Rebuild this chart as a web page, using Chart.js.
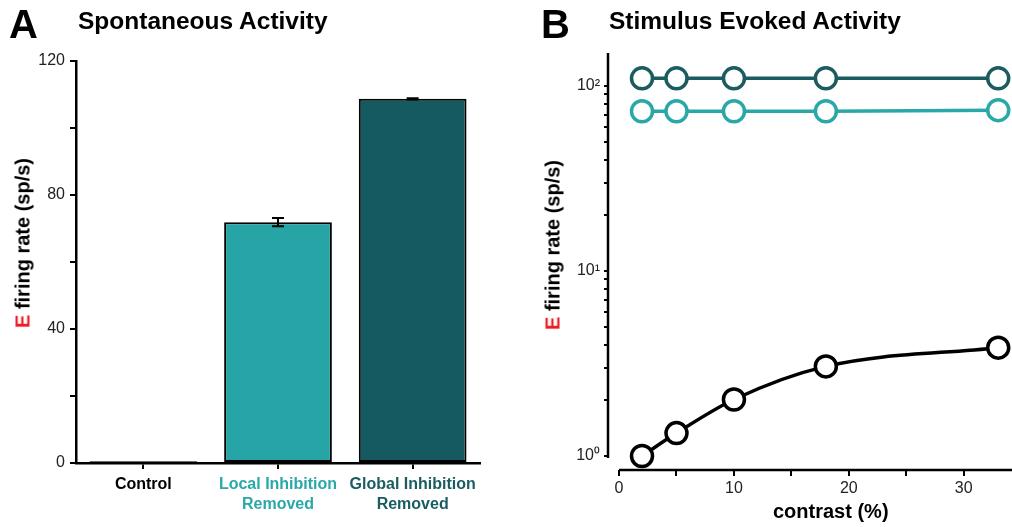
<!DOCTYPE html>
<html>
<head>
<meta charset="utf-8">
<script src="https://cdn.jsdelivr.net/npm/chart.js@4.4.0/dist/chart.umd.min.js"></script>
<style>
  body { margin:0; background:#fff; font-family:"Liberation Sans", Arial, sans-serif; }
  #wrap { position:relative; width:1012px; height:527px; overflow:hidden; }
  canvas { position:absolute; top:0; }
  .lbl { position:absolute; font-weight:bold; color:#000; white-space:nowrap; }
  .ylab { position:absolute; font-weight:bold; font-size:20px; white-space:nowrap;
          transform:translate(-50%,-50%) rotate(-90deg); }
  .ylab span { color:#ee1c25; }
</style>
</head>
<body>
<div id="wrap">
  <canvas id="chartA" width="500" height="527" style="left:0"></canvas>
  <canvas id="chartB" width="512" height="527" style="left:500px"></canvas>
  <div class="lbl" style="left:9px;top:2px;font-size:40px">A</div>
  <div class="lbl" style="left:78px;top:7px;font-size:24.5px">Spontaneous Activity</div>
  <div class="lbl" style="left:541px;top:2px;font-size:40px">B</div>
  <div class="lbl" style="left:609px;top:7px;font-size:24.5px">Stimulus Evoked Activity</div>
  <div class="ylab" style="left:23px;top:243px"><span>E</span> firing rate (sp/s)</div>
  <div class="ylab" style="left:553px;top:245px"><span>E</span> firing rate (sp/s)</div>
  <div class="lbl" style="left:773px;top:500px;font-size:20px">contrast (%)</div>
</div>
<script>
// panel A: spontaneous
const conditions = ['Control', ['Local Inhibition', 'Removed'], ['Global Inhibition', 'Removed']];
const spontRate = [0.5, 71.9, 108.7];
const spontErr = [0.2, 1.2, 0.2];
const barColors = ['#000000', '#26a4a6', '#155a60'];
const labelColors = ['#000000', '#2aa8a8', '#1a5c60'];
const yTicksA = [0, 40, 80, 120];

// panel B: stimulus evoked
const contrast = [2, 5, 10, 18, 33];
const globalRemoved = [110, 110, 110, 110, 110];
const localRemoved = [73, 73, 73, 73, 74];
const control = [1.0, 1.33, 2.02, 3.05, 3.85];
const xTicksB = [0, 10, 20, 30];

const FONT = '"Liberation Sans", Arial, sans-serif';

const errorBars = {
  id: 'errorBars',
  afterDatasetsDraw(chart) {
    const ctx = chart.ctx, y = chart.scales.y;
    const meta = chart.getDatasetMeta(0);
    ctx.save();
    ctx.strokeStyle = '#000';
    ctx.lineWidth = 2;
    meta.data.forEach((bar, i) => {
      if (i == 0) return;
      const hi = y.getPixelForValue(spontRate[i] + spontErr[i]);
      const lo = y.getPixelForValue(spontRate[i] - spontErr[i]);
      ctx.beginPath();
      ctx.moveTo(bar.x, hi); ctx.lineTo(bar.x, lo);
      ctx.moveTo(bar.x - 6, hi); ctx.lineTo(bar.x + 6, hi);
      ctx.moveTo(bar.x - 6, lo); ctx.lineTo(bar.x + 6, lo);
      ctx.stroke();
    });
    ctx.restore();
  }
};

new Chart(document.getElementById('chartA'), {
  type: 'bar',
  data: {
    labels: conditions,
    datasets: [{
      data: spontRate,
      backgroundColor: barColors,
      borderColor: '#000',
      borderWidth: 2,
      borderSkipped: false,
      barPercentage: 0.8,
      categoryPercentage: 1
    }]
  },
  options: {
    responsive: false,
    animation: false,
    layout: { autoPadding: false, padding: { top: 61, right: 20, left: 0, bottom: 0 } },
    plugins: { legend: { display: false }, tooltip: { enabled: false } },
    scales: {
      x: {
        afterFit(s) { s.height = 64; },
        grid: { display: true, offset: false, drawOnChartArea: false, tickLength: 6, color: '#000', lineWidth: 2 },
        border: { color: '#000', width: 2.5 },
        ticks: {
          color: (c) => labelColors[c.index],
          font: { family: FONT, size: 16, weight: 'bold', lineHeight: 1.25 },
          padding: 6,
          maxRotation: 0,
          minRotation: 0,
          autoSkip: false
        }
      },
      y: {
        min: 0, max: 120,
        afterFit(s) { s.width = 76; },
        afterBuildTicks(s) { s.ticks = [0, 20, 40, 60, 80, 100, 120].map(v => ({ value: v })); },
        grid: { display: true, drawOnChartArea: false, tickLength: 6, color: '#000', lineWidth: 2 },
        border: { color: '#000', width: 2.5 },
        ticks: {
          color: '#222',
          font: { family: FONT, size: 16 },
          padding: 5,
          callback: (v) => yTicksA.includes(v) ? v : ''
        }
      }
    }
  },
  plugins: [errorBars]
});

const supers = ['\u2070', '\u00b9', '\u00b2'];

const axesB = {
  id: 'axesB',
  afterDraw(chart) {
    const ctx = chart.ctx, x = chart.scales.x, y = chart.scales.y;
    const a = chart.chartArea;
    ctx.save();
    ctx.strokeStyle = '#000';
    ctx.lineWidth = 2.5;
    ctx.beginPath();
    ctx.moveTo(a.left, y.getPixelForValue(1) + 2);
    ctx.lineTo(a.left, a.top);
    ctx.moveTo(x.getPixelForValue(0), a.bottom);
    ctx.lineTo(a.right, a.bottom);
    ctx.stroke();
    ctx.restore();
  }
};

function pointDs(data, color) {
  return {
    data: contrast.map((c, i) => ({ x: c, y: data[i] })),
    borderColor: color,
    borderWidth: 3.5,
    pointRadius: 10.5,
    pointBorderWidth: 3.5,
    pointBackgroundColor: '#fff',
    pointBorderColor: color,
    showLine: true
  };
}

const ctrlDs = pointDs(control, '#000');
ctrlDs.tension = 0.4;
ctrlDs.cubicInterpolationMode = 'monotone';

new Chart(document.getElementById('chartB'), {
  type: 'scatter',
  data: {
    datasets: [
      pointDs(globalRemoved, '#1a5c60'),
      pointDs(localRemoved, '#2aa8a8'),
      ctrlDs
    ]
  },
  options: {
    responsive: false,
    animation: false,
    clip: false,
    layout: { autoPadding: false, padding: { top: 53, right: 0, left: 0, bottom: 0 } },
    plugins: { legend: { display: false }, tooltip: { enabled: false } },
    scales: {
      x: {
        type: 'linear',
        min: -0.96, max: 34.2,
        afterFit(s) { s.height = 57; },
        afterBuildTicks(s) { s.ticks = [0, 5, 10, 15, 20, 25, 30].map(v => ({ value: v })); },
        grid: { display: true, drawOnChartArea: false, tickLength: 6, color: '#000', lineWidth: 2 },
        border: { display: false },
        ticks: {
          color: '#222',
          font: { family: FONT, size: 16 },
          padding: 3,
          maxRotation: 0,
          callback: (v) => xTicksB.includes(v) ? v : ''
        }
      },
      y: {
        type: 'logarithmic',
        min: 0.84, max: 150.7,
        afterFit(s) { s.width = 108; },
        afterBuildTicks(s) {
          const t = [];
          [1, 10, 100].forEach(d => { for (let k = 1; k < 10; k++) if (d * k <= 150) t.push({ value: d * k }); });
          s.ticks = t;
        },
        grid: { display: true, drawOnChartArea: false, tickLength: 4, color: '#000', lineWidth: 2 },
        border: { display: false },
        ticks: {
          color: '#222',
          font: { family: FONT, size: 16 },
          padding: 4,
          autoSkip: false,
          callback: (v) => {
            const e = Math.log10(v);
            return Number.isInteger(e) ? '10' + supers[e] : '';
          }
        }
      }
    }
  },
  plugins: [axesB]
});
</script>
</body>
</html>
